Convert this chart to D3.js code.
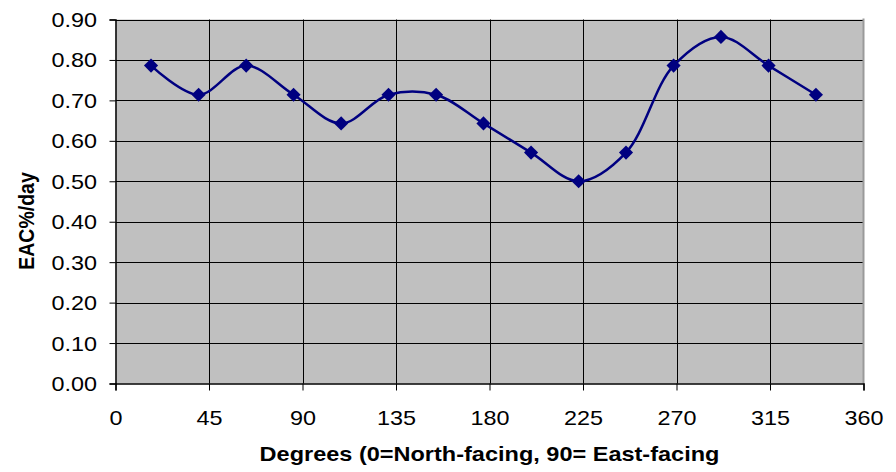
<!DOCTYPE html>
<html>
<head>
<meta charset="utf-8">
<script src="https://cdn.jsdelivr.net/npm/d3@7"></script>
<style>
  html, body { margin: 0; padding: 0; background: #fff; }
  svg { display: block; font-family: "Liberation Sans", Arial, sans-serif; }
</style>
</head>
<body>
<svg id="chart" width="896" height="472"></svg>
<script>
// Data
const degrees = [17.1, 40.0, 62.9, 85.7, 108.6, 131.4, 154.3, 177.1, 200.0, 222.9, 245.7, 268.6, 291.4, 314.3, 337.1];
const eac = [0.786, 0.714, 0.786, 0.714, 0.643, 0.714, 0.714, 0.643, 0.571, 0.500, 0.571, 0.786, 0.857, 0.786, 0.714];
const xTicks = [0, 45, 90, 135, 180, 225, 270, 315, 360];
const yTicks = [0, 0.1, 0.2, 0.3, 0.4, 0.5, 0.6, 0.7, 0.8, 0.9];
const xTitle = "Degrees (0=North-facing, 90= East-facing";
const yTitle = "EAC%/day";

(function () {
const svg = d3.select("#chart");
const pL = 115.5, pR = 863.5, pT = 19.5, pB = 383.5;
const SX = 1.17;

const x = d3.scaleLinear().domain([0, 360]).range([pL, pR]);
const y = d3.scaleLinear().domain([0, 0.9]).range([pB, pT]);

// plot background
svg.append("rect")
  .attr("x", pL).attr("y", pT)
  .attr("width", pR - pL).attr("height", pB - pT)
  .attr("fill", "#c0c0c0");

// horizontal gridlines
svg.append("g").selectAll("line").data(yTicks.slice(1)).join("line")
  .attr("x1", pL).attr("x2", pR)
  .attr("y1", d => Math.round(y(d)) + 0.5).attr("y2", d => Math.round(y(d)) + 0.5)
  .attr("stroke", "#000").attr("stroke-width", 1);

// vertical gridlines
svg.append("g").selectAll("line").data(xTicks.slice(1, -1)).join("line")
  .attr("x1", d => Math.round(x(d)) + 0.5).attr("x2", d => Math.round(x(d)) + 0.5)
  .attr("y1", pT).attr("y2", pB)
  .attr("stroke", "#000").attr("stroke-width", 1);

// right border (grey)
svg.append("line")
  .attr("x1", pR).attr("x2", pR).attr("y1", pT - 1).attr("y2", pB)
  .attr("stroke", "#9a9a9a").attr("stroke-width", 2);

// axes
const yAxis = d3.axisLeft(y).tickValues(yTicks).tickFormat(d3.format(".2f")).tickSize(6);
const gy = svg.append("g").attr("transform", `translate(${pL},0)`).call(yAxis);
gy.select(".domain").attr("stroke", "#000").attr("stroke-width", 1.5);
gy.selectAll(".tick line").attr("stroke", "#000");
gy.selectAll(".tick text")
  .attr("x", -18.5 / SX).attr("dy", "0.35em")
  .attr("transform", `scale(${SX},1)`)
  .attr("font-size", 20).attr("fill", "#000")
  .attr("font-family", "Liberation Sans, Arial, sans-serif");

const xAxis = d3.axisBottom(x).tickValues(xTicks).tickFormat(d3.format("d")).tickSize(7);
const gx = svg.append("g").attr("transform", `translate(0,${pB})`).call(xAxis);
gx.select(".domain").attr("stroke", "#000").attr("stroke-width", 1.5);
gx.selectAll(".tick line").attr("stroke", "#000");
gx.selectAll(".tick text")
  .attr("y", 41.5).attr("dy", 0)
  .attr("transform", `scale(${SX},1)`)
  .attr("font-size", 20).attr("fill", "#000")
  .attr("font-family", "Liberation Sans, Arial, sans-serif");

// line
const line = d3.line()
  .x((d, i) => x(degrees[i]))
  .y(d => y(d))
  .curve(d3.curveCatmullRom.alpha(0.5));
svg.append("path")
  .datum(eac)
  .attr("d", line)
  .attr("fill", "none")
  .attr("stroke", "#000080")
  .attr("stroke-width", 2.5);

// markers (diamonds)
svg.append("g").selectAll("path").data(eac).join("path")
  .attr("transform", (d, i) => `translate(${x(degrees[i])},${y(d)}) rotate(45)`)
  .attr("d", d3.symbol().type(d3.symbolSquare).size(100))
  .attr("fill", "#000080");

// axis titles
svg.append("g").attr("transform", `translate(${(pL + pR) / 2},461) scale(1.12,1)`)
  .append("text")
  .attr("text-anchor", "middle")
  .attr("font-weight", "bold").attr("font-size", 21)
  .text(xTitle);

svg.append("g").attr("transform", `translate(34,221) scale(1.1,1) rotate(-90)`)
  .append("text")
  .attr("text-anchor", "middle")
  .attr("font-weight", "bold").attr("font-size", 19.5)
  .text(yTitle);
})();
</script>
</body>
</html>
